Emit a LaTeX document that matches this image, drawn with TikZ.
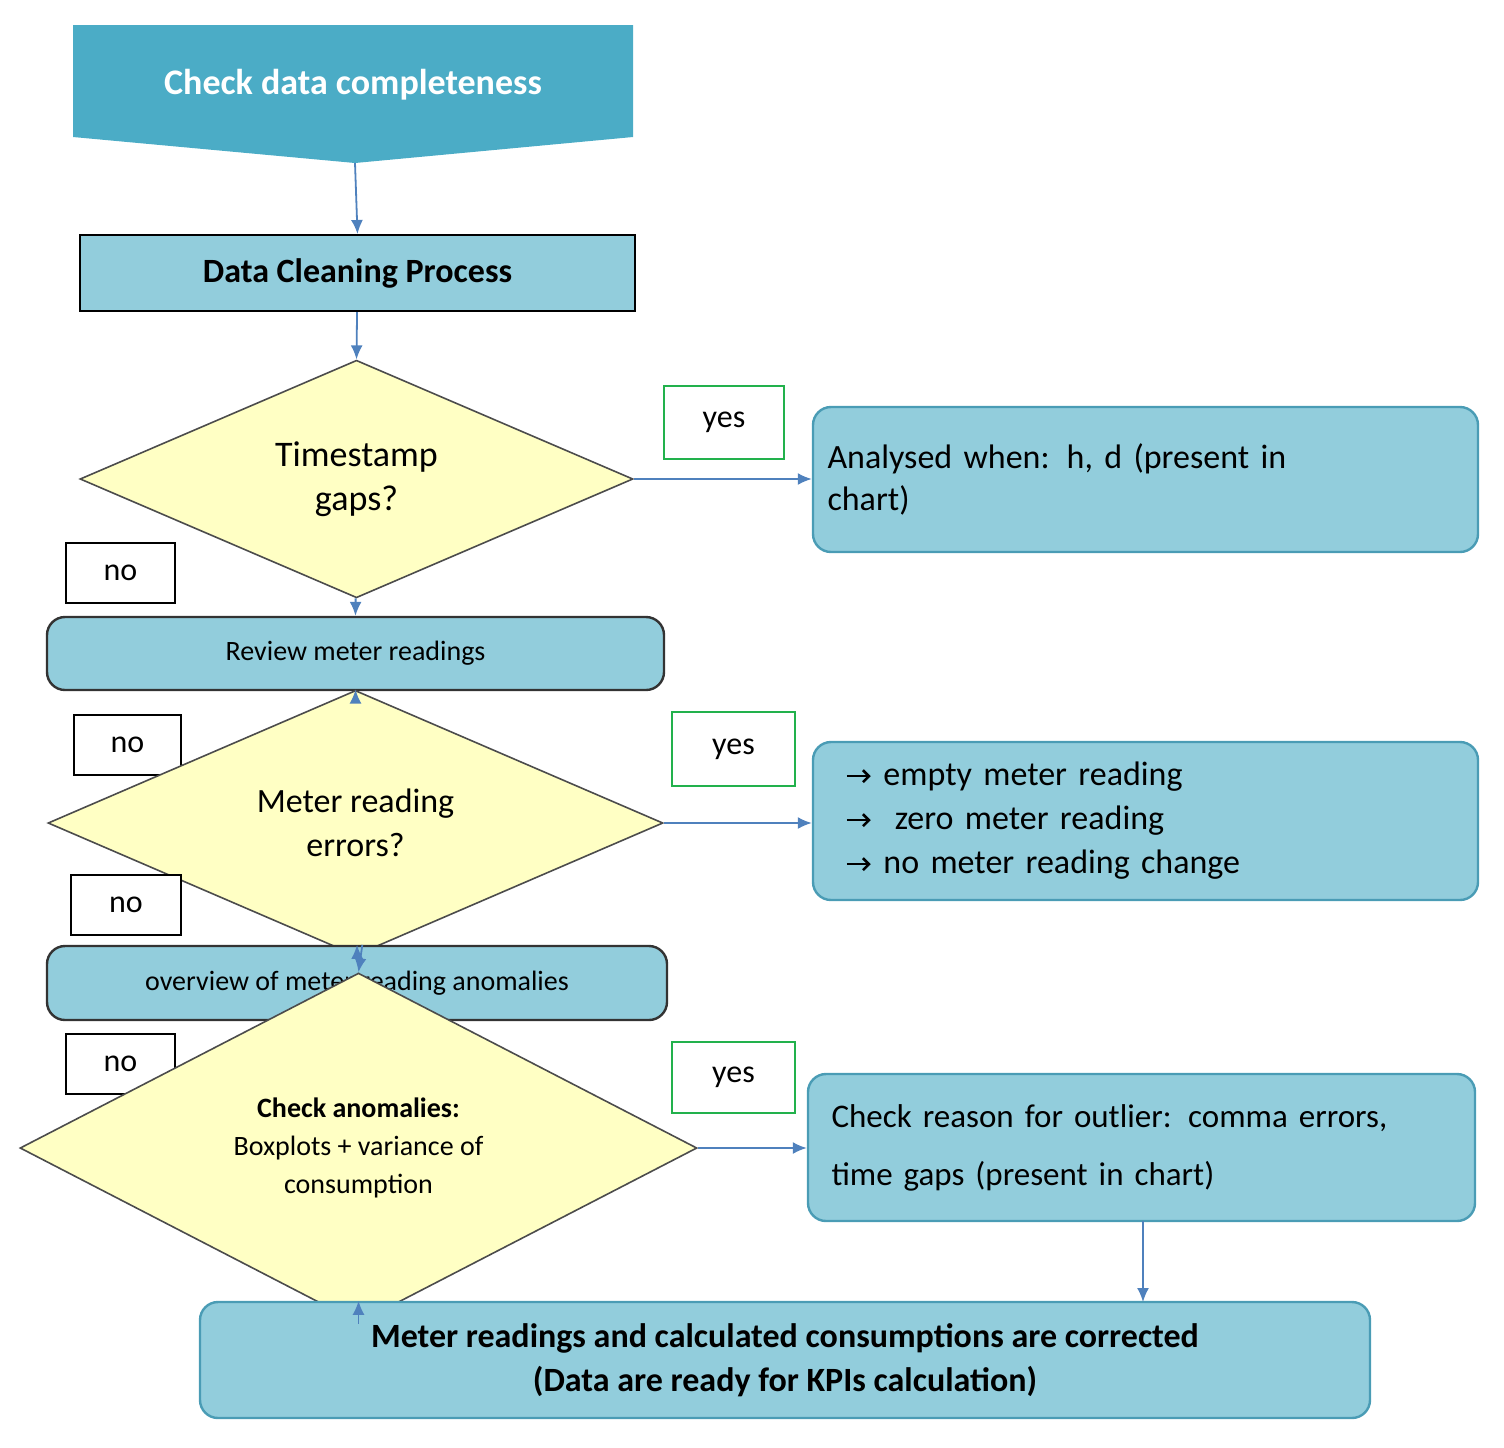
\documentclass[tikz,border=0pt]{standalone}
\usepackage{fontspec}
\setmainfont{Carlito}
\usetikzlibrary{shapes.geometric,arrows.meta}
\definecolor{banner}{HTML}{4BACC6}
\definecolor{boxf}{HTML}{92CDDC}
\definecolor{boxd}{HTML}{4A9CB5}
\definecolor{dia}{HTML}{FFFFC4}
\definecolor{arr}{HTML}{4F81BD}
\definecolor{grn}{HTML}{22B14C}
\newcommand{\myarr}{\tikz[baseline=-0.6ex]\draw[line width=1.3pt,-{Straight Barb[length=3pt]}] (0,0) -- (12pt,0);}
\tikzset{
  rbox/.style={draw=boxd,line width=1.2pt,fill=boxf,rounded corners=9pt,inner sep=0},
  sbox/.style={draw=black,line width=1pt,fill=boxf,inner sep=0},
  dmd/.style={diamond,draw=black!70,line width=0.8pt,fill=dia,inner sep=0,align=center},
  lab/.style={draw=black,line width=0.8pt,fill=white,inner sep=0,font=\fontsize{16}{18}\selectfont},
  ylab/.style={draw=grn,line width=0.8pt,fill=white,inner sep=0,font=\fontsize{16}{18}\selectfont},
  arw/.style={draw=arr,line width=0.9pt,-{Latex[length=7pt,width=6pt]}}
}
\begin{document}
\begin{tikzpicture}[x=0.5pt,y=-0.5pt]
\useasboundingbox (0,0) rectangle (1504,1447);
\fill[banner] (73,25) -- (633,25) -- (633,137) -- (355,163) -- (73,137) -- cycle;
\coordinate (btip) at (355,163);
\node[text=white,font=\fontsize{18}{20}\selectfont\bfseries] (bt) at (353,85) {Check data completeness};
\node[sbox,minimum width=277.5pt,minimum height=38pt,font=\fontsize{17}{19}\selectfont\bfseries] (dcp) at (357.5,273) {Data Cleaning Process};
\node[dmd,minimum width=276.5pt,minimum height=89pt,font=\fontsize{18}{22}\selectfont] (d1) at (356.5,479) {Timestamp\\gaps?};
\node[ylab,minimum width=60pt,minimum height=36.5pt] (y1) at (724,422.5) {yes};
\node[rbox,minimum width=332.5pt,minimum height=72.5pt,text width=318pt,align=left,font=\fontsize{17}{21}\selectfont] (a1) at (1145.5,479.5) {Analysed when: h, d (present in\\chart)};
\node[lab,minimum width=54.5pt,minimum height=30pt] (n1) at (120.5,573) {no};
\node[rbox,draw=black!80,minimum width=308.5pt,minimum height=36.5pt,font=\fontsize{14}{16}\selectfont] (rv) at (355.5,653.5) {Review meter readings};
\node[lab,minimum width=53.5pt,minimum height=30pt] (n2) at (127.5,745) {no};
\node[dmd,minimum width=307.5pt,minimum height=80pt,font=\fontsize{17}{22}\selectfont] (d2) at (355.5,823) {Meter reading\\errors?};
\node[ylab,minimum width=61.5pt,minimum height=37pt] (y2) at (733.5,749) {yes};
\node[rbox,minimum width=332.5pt,minimum height=79pt,text width=300pt,align=left,font=\fontsize{17}{22}\selectfont] (a2) at (1145.5,821) {\myarr\ empty meter reading\\\myarr\ \ zero meter reading\\\myarr\ no meter reading change};
\node[lab,minimum width=55pt,minimum height=30pt] (n3) at (126,905) {no};
\node[rbox,draw=black!80,minimum width=310pt,minimum height=37pt,font=\fontsize{14}{16}\selectfont] (ov) at (357,983) {overview of meter reading anomalies};
\node[lab,minimum width=54.5pt,minimum height=30pt] (n4) at (120.5,1064) {no};
\node[dmd,minimum width=338.5pt,minimum height=100pt,font=\fontsize{14}{19}\selectfont] (d3) at (358.5,1148) {\textbf{Check anomalies:}\\Boxplots + variance of\\consumption};
\node[ylab,minimum width=61.5pt,minimum height=35.5pt] (y3) at (733.5,1077.5) {yes};
\node[rbox,minimum width=333.5pt,minimum height=73.5pt,text width=310pt,align=left,font=\fontsize{16.5}{29}\selectfont] (a3) at (1141.5,1147.5) {Check reason for outlier: comma errors,\\time gaps (present in chart)};
\node[rbox,minimum width=585pt,minimum height=58pt,align=center,font=\fontsize{17}{22}\selectfont\bfseries] (fin) at (785,1360) {Meter readings and calculated consumptions are corrected\\(Data are ready for KPIs calculation)};
\coordinate (c1) at (1143,1221);
\coordinate (c2) at (1143,1302);
\draw[arw] (btip) -- (dcp.north);
\draw[arw] (dcp) -- (d1.north);
\draw[arw] (d1) -- (rv.north);
\draw[arw] (rv) -- (d2.north);
\draw[arw] (d2) -- (ov.north);
\draw[arw] (ov) -- (d3.north);
\draw[arw] (d3.south) -- (fin.north -| d3.south);
\draw[arw] (d1.east) -- (a1.west |- d1.east);
\draw[arw] (d2.east) -- (a2.west |- d2.east);
\draw[arw] (d3.east) -- (a3.west |- d3.east);
\draw[arw] (c1) -- (c2);
\end{tikzpicture}
\end{document}
